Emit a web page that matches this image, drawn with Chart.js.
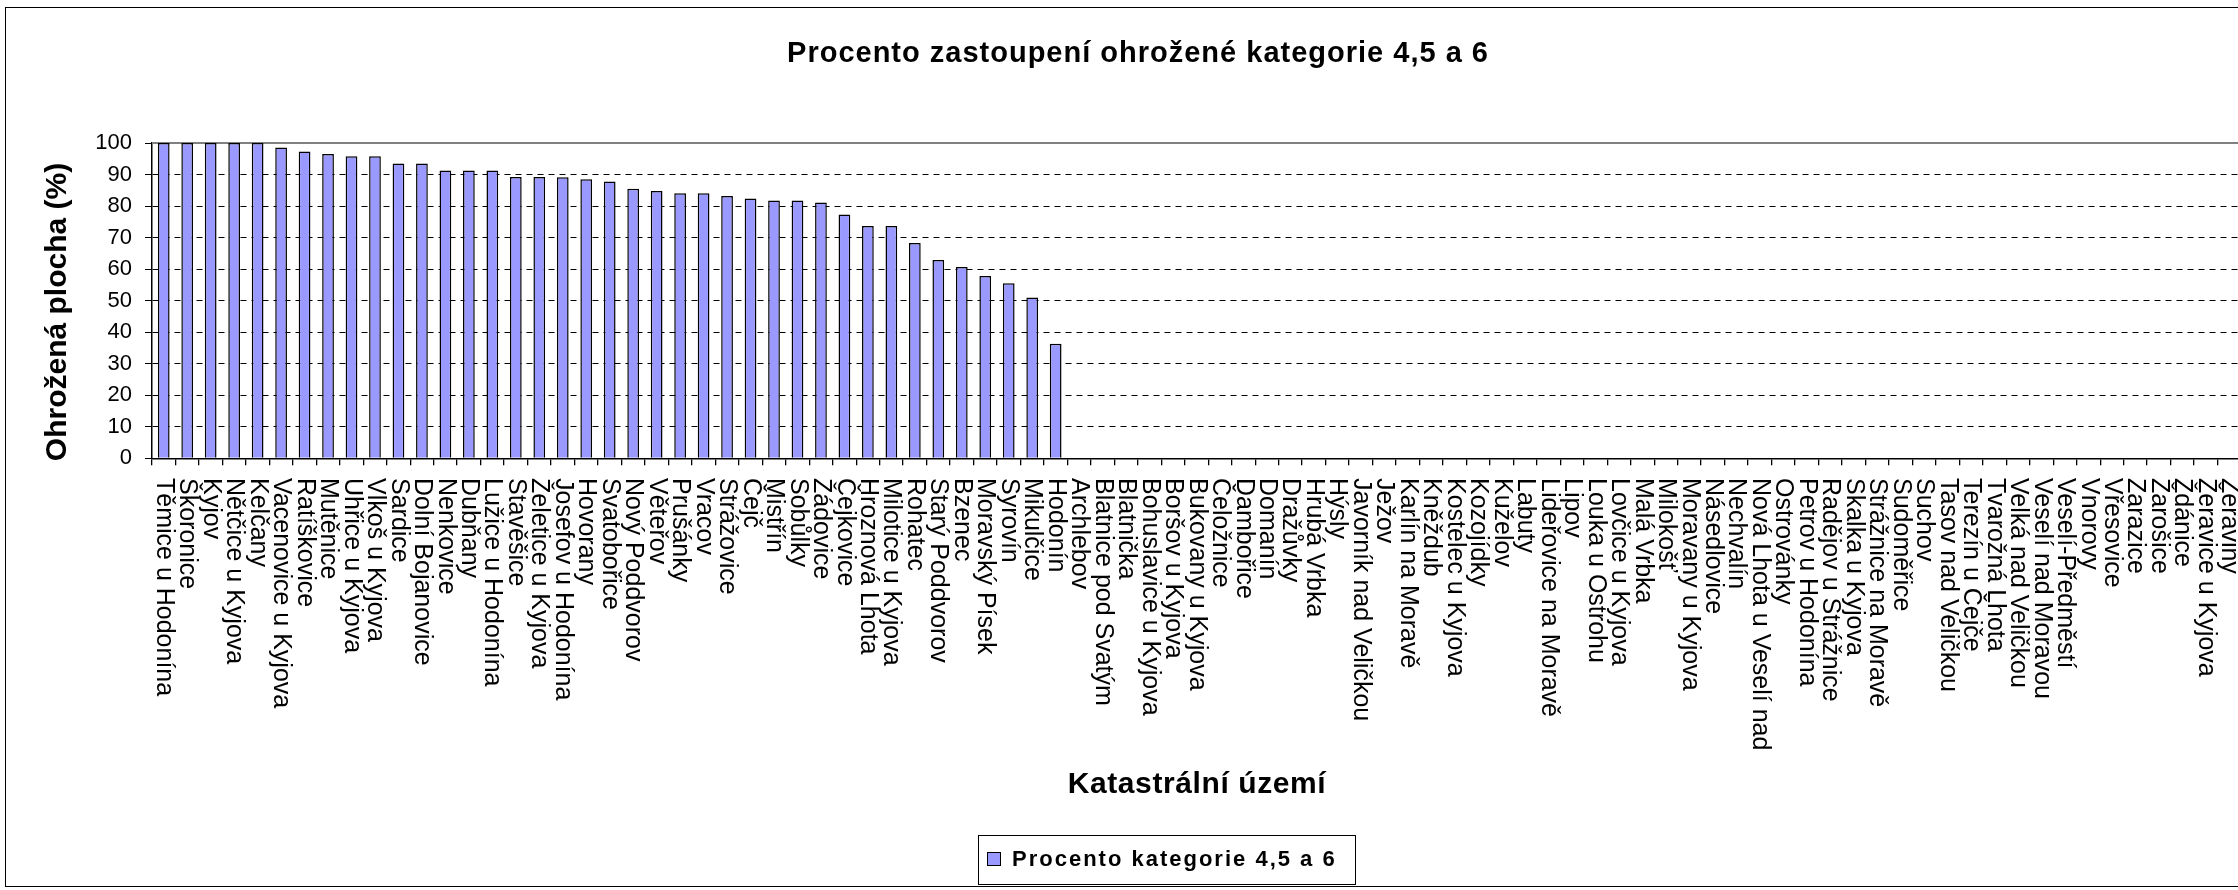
<!DOCTYPE html>
<html lang="cs">
<head>
<meta charset="utf-8">
<title>Procento zastoupení ohrožené kategorie 4,5 a 6</title>
<script src="https://cdn.jsdelivr.net/npm/chart.js@4/dist/chart.umd.min.js"></script>
<style>
    html, body { margin: 0; padding: 0; background: #fff; overflow: hidden; }
    canvas { display: block; }
</style>
</head>
<body>
<canvas id="graf" width="2260" height="890"></canvas>
<script>
// Data grafu
const uzemi = [
    'Těmice u Hodonína', 'Škoronice', 'Kyjov', 'Nětčice u Kyjova', 'Kelčany',
    'Vacenovice u Kyjova', 'Ratíškovice', 'Mutěnice', 'Uhřice u Kyjova', 'Vlkoš u Kyjova',
    'Sardice', 'Dolní Bojanovice', 'Nenkovice', 'Dubňany', 'Lužice u Hodonína',
    'Stavěšice', 'Želetice u Kyjova', 'Josefov u Hodonína', 'Hovorany', 'Svatobořice',
    'Nový Poddvorov', 'Věteřov', 'Prušánky', 'Vracov', 'Strážovice',
    'Čejč', 'Mistřín', 'Sobůlky', 'Žádovice', 'Čejkovice',
    'Hroznová Lhota', 'Milotice u Kyjova', 'Rohatec', 'Starý Poddvorov', 'Bzenec',
    'Moravský Písek', 'Syrovín', 'Mikulčice', 'Hodonín', 'Archlebov',
    'Blatnice pod Svatým', 'Blatnička', 'Bohuslavice u Kyjova', 'Boršov u Kyjova', 'Bukovany u Kyjova',
    'Čeložnice', 'Dambořice', 'Domanín', 'Dražůvky', 'Hrubá Vrbka',
    'Hýsly', 'Javorník nad Veličkou', 'Ježov', 'Karlín na Moravě', 'Kněždub',
    'Kostelec u Kyjova', 'Kozojídky', 'Kuželov', 'Labuty', 'Lideřovice na Moravě',
    'Lipov', 'Louka u Ostrohu', 'Lovčice u Kyjova', 'Malá Vrbka', 'Milokošť',
    'Moravany u Kyjova', 'Násedlovice', 'Nechvalín', 'Nová Lhota u Veselí nad', 'Ostrovánky',
    'Petrov u Hodonína', 'Radějov u Strážnice', 'Skalka u Kyjova', 'Strážnice na Moravě', 'Sudoměřice',
    'Suchov', 'Tasov nad Veličkou', 'Terezín u Čejče', 'Tvarožná Lhota', 'Velká nad Veličkou',
    'Veselí nad Moravou', 'Veselí-Předměstí', 'Vnorovy', 'Vřesovice', 'Zarazice',
    'Žarošice', 'Ždánice', 'Žeravice u Kyjova', 'Žeraviny'
];

const procenta = [
    100, 100, 100, 100, 100,
    98.6, 97.3, 96.5, 95.8, 95.8,
    93.5, 93.5, 91.3, 91.3, 91.3,
    89.2, 89.2, 89.1, 88.5, 87.8,
    85.5, 84.8, 84.1, 84.1, 83.2,
    82.4, 81.8, 81.8, 81.1, 77.3,
    73.7, 73.7, 68.3, 62.9, 60.7,
    57.8, 55.5, 51.0, 36.3, 0,
    0, 0, 0, 0, 0,
    0, 0, 0, 0, 0,
    0, 0, 0, 0, 0,
    0, 0, 0, 0, 0,
    0, 0, 0, 0, 0,
    0, 0, 0, 0, 0,
    0, 0, 0, 0, 0,
    0, 0, 0, 0, 0,
    0, 0, 0, 0, 0,
    0, 0, 0, 0
];

const osaY = [0, 10, 20, 30, 40, 50, 60, 70, 80, 90, 100];

const nadpis = 'Procento zastoupení ohrožené kategorie 4,5 a 6';
const popisY = 'Ohrožená plocha (%)';
const popisX = 'Katastrální území';
const nazevRady = 'Procento kategorie 4,5 a 6';

const barvaSloupcu = '#9999ff';
const pismo = '"Liberation Sans", Arial, sans-serif';

Chart.defaults.font.family = pismo;
Chart.defaults.color = '#000';

// Texty, rámeček a legenda kreslené ručně
const popisky = {
    id: 'popisky',
    beforeDatasetsDraw(chart) {
        const { ctx, scales: { x, y } } = chart;
        const y100 = y.getPixelForValue(100);
        ctx.save();
        ctx.strokeStyle = '#808080';
        ctx.lineWidth = 2;
        ctx.beginPath();
        ctx.moveTo(x.left, y100);
        ctx.lineTo(x.right + 5, y100);
        ctx.stroke();
        ctx.restore();
    },
    afterDraw(chart) {
        const { ctx, scales: { x } } = chart;
        ctx.save();

        // vnější rámeček
        ctx.strokeStyle = '#000';
        ctx.lineWidth = 1;
        ctx.strokeRect(5.5, 7.5, 2400, 879);

        ctx.fillStyle = '#000';

        // nadpis
        ctx.font = 'bold 29px ' + pismo;
        ctx.letterSpacing = '1px';
        ctx.textAlign = 'center';
        ctx.textBaseline = 'middle';
        ctx.fillText(nadpis, 1138, 54);

        // popis osy Y
        ctx.letterSpacing = '0px';
        ctx.font = 'bold 30px ' + pismo;
        ctx.save();
        ctx.translate(58, 312);
        ctx.rotate(-Math.PI / 2);
        ctx.fillText(popisY, 0, 0);
        ctx.restore();

        // popisky kategorií (svisle, shora dolů)
        ctx.font = '25px ' + pismo;
        ctx.textAlign = 'left';
        ctx.textBaseline = 'middle';
        uzemi.forEach((nazev, i) => {
            const px = x.getPixelForValue(i);
            ctx.save();
            ctx.translate(px, 478);
            ctx.rotate(Math.PI / 2);
            ctx.fillText(nazev, 0, 0);
            ctx.restore();
        });

        // popis osy X
        ctx.font = 'bold 30px ' + pismo;
        ctx.letterSpacing = '0.6px';
        ctx.textAlign = 'center';
        ctx.fillText(popisX, 1197, 785);

        // legenda
        ctx.letterSpacing = '0px';
        ctx.strokeStyle = '#000';
        ctx.lineWidth = 1;
        ctx.strokeRect(978.5, 835.5, 377, 49);
        ctx.fillStyle = barvaSloupcu;
        ctx.fillRect(987.5, 852.5, 13, 13);
        ctx.strokeRect(987.5, 852.5, 13, 13);
        ctx.fillStyle = '#000';
        ctx.font = 'bold 22px ' + pismo;
        ctx.letterSpacing = '2px';
        ctx.textAlign = 'left';
        ctx.fillText(nazevRady, 1012, 860);

        ctx.restore();
    }
};

new Chart(document.getElementById('graf'), {
    type: 'bar',
    data: {
        labels: uzemi,
        datasets: [{
            label: nazevRady,
            data: procenta,
            backgroundColor: barvaSloupcu,
            borderColor: '#000',
            borderWidth: 1.5,
            categoryPercentage: 1,
            barPercentage: 0.5
        }]
    },
    options: {
        responsive: false,
        animation: false,
        devicePixelRatio: 1,
        layout: { padding: { left: 0, right: 19, top: 143, bottom: 0 } },
        plugins: {
            legend: { display: false },
            title: { display: false },
            tooltip: { enabled: false }
        },
        scales: {
            x: {
                offset: true,
                afterFit: (s) => { s.height = 431.7; },
                ticks: { display: false },
                grid: {
                    offset: true,
                    drawOnChartArea: false,
                    drawTicks: true,
                    tickLength: 7,
                    color: '#000',
                    lineWidth: 1.3
                },
                border: { color: '#000', width: 1.5 }
            },
            y: {
                min: 0,
                max: 100,
                afterFit: (s) => { s.width = 152; },
                afterBuildTicks: (s) => { s.ticks = osaY.map(v => ({ value: v })); },
                ticks: {
                    font: { size: 22 },
                    color: '#000',
                    padding: 13
                },
                grid: {
                    color: (c) => (c.tick && c.tick.value === 100) ? 'rgba(0,0,0,0)' : '#000',
                    tickColor: '#000',
                    lineWidth: 1,
                    drawTicks: true,
                    tickLength: 7
                },
                border: { color: '#000', width: 1.5, dash: [6, 5] }
            }
        }
    },
    plugins: [popisky]
});
</script>
</body>
</html>
